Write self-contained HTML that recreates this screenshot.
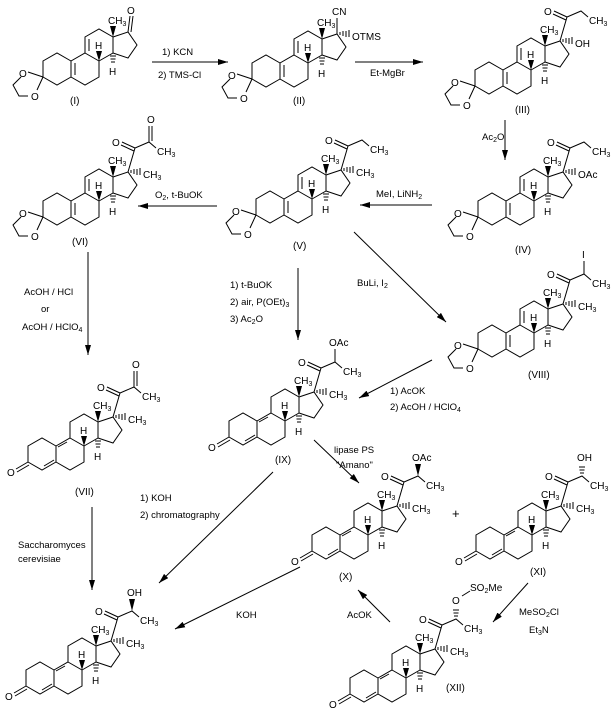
<!DOCTYPE html>
<html><head><meta charset="utf-8"><style>
html,body{margin:0;padding:0;background:#fff;}
svg{display:block;font-family:"Liberation Sans",sans-serif;font-size:10px;}
.l{stroke:#000;stroke-width:1;fill:none;}
.f{fill:#000;stroke:none;}
.s{font-size:7px;}
.r{font-size:9.5px;}
</style></head><body>
<svg width="612" height="710" viewBox="0 0 612 710" xmlns="http://www.w3.org/2000/svg">
<defs>
<marker id="ah" viewBox="0 0 10 6" refX="10" refY="3" markerWidth="10" markerHeight="6" orient="auto" markerUnits="userSpaceOnUse"><path d="M0,0L10,3L0,6z" fill="#000"/></marker>
<g id="core">
<polygon class="l" points="0,-16 14,-8 14,8 0,16 -14,8 -14,-8"/>
<polyline class="l" points="0,-16 0,-32 14,-40 28,-32 28,-16 14,-8"/>
<polyline class="l" points="28,-32 43,-37 52,-24 43,-11 28,-16"/>
<polygon class="f" points="28,-32 25,-43 31,-43"/>
<polygon class="f" points="14,-8 11,-18 17,-18"/>
<path class="l" d="M25,-13h6M25.5,-10h5M26,-7h4"/>
</g>
<g id="kA">
<polyline class="l" points="-14,-8 -28,-16 -42,-8 -42,8 -28,16 -14,8"/>
<path class="l" d="M-10,-6V6M4,-30V-18"/>
<path class="l" d="M-42,8L-57,3M-64,8L-72,16L-66,27L-57,27M-42,8L-48,21"/>
</g>
<g id="dA">
<polyline class="l" points="-14,-8 -28,-16 -42,-8 -42,8 -28,16 -14,8"/>
<path class="l" d="M-26,12L-16,6M-3,-12L-12,-7M-42,8L-54,15M-41,11L-53,18"/>
</g>
<g id="c20">
<path class="l" d="M43,-37L50,-61L64,-67L71,-61M50,-61L37,-67M49,-58L36,-64"/>
<path class="l" d="M46,-39v3M49,-40v5M52,-40v6M55,-41v7"/>
</g>
</defs>

<!-- (I) -->
<g transform="translate(85,69)">
<use href="#core"/><use href="#kA"/>
<path class="l" d="M43,-37L45,-53M46,-37L48,-53"/>
<text x="42" y="-55">O</text>
<text x="23" y="-45">CH<tspan class="s" dy="2">3</tspan></text>
<text x="10" y="-20">H</text><text x="24" y="6">H</text>
<text x="-66" y="8">O</text><text x="-54" y="31">O</text>
</g>
<text x="70" y="104">(I)</text>

<!-- (II) -->
<g transform="translate(294,71)">
<use href="#core"/><use href="#kA"/>
<path class="l" d="M43,-37V-53M46,-39v3M49,-40v5M52,-40v6M55,-41v7"/>
<text x="38" y="-56">CN</text><text x="58" y="-31">OTMS</text>
<text x="23" y="-45">CH<tspan class="s" dy="2">3</tspan></text>
<text x="10" y="-20">H</text><text x="24" y="6">H</text>
<text x="-66" y="8">O</text><text x="-54" y="31">O</text>
</g>
<text x="293" y="104">(II)</text>

<!-- (III) -->
<g transform="translate(517,78)">
<use href="#core"/><use href="#kA"/><use href="#c20"/>
<text x="27" y="-63">O</text>
<text x="72" y="-54">CH<tspan class="s" dy="2">3</tspan></text>
<text x="58" y="-31">OH</text>
<text x="23" y="-45">CH<tspan class="s" dy="2">3</tspan></text>
<text x="10" y="-20">H</text><text x="24" y="6">H</text>
<text x="-66" y="8">O</text><text x="-54" y="31">O</text>
</g>
<text x="515" y="113">(III)</text>

<!-- (IV) -->
<g transform="translate(520,209)">
<use href="#core"/><use href="#kA"/><use href="#c20"/>
<text x="27" y="-63">O</text>
<text x="72" y="-54">CH<tspan class="s" dy="2">3</tspan></text>
<text x="58" y="-31">OAc</text>
<text x="23" y="-45">CH<tspan class="s" dy="2">3</tspan></text>
<text x="10" y="-20">H</text><text x="24" y="6">H</text>
<text x="-66" y="8">O</text><text x="-54" y="31">O</text>
</g>
<text x="515" y="253">(IV)</text>

<!-- (V) -->
<g transform="translate(298,207)">
<use href="#core"/><use href="#kA"/><use href="#c20"/>
<text x="27" y="-63">O</text>
<text x="72" y="-54">CH<tspan class="s" dy="2">3</tspan></text>
<text x="58" y="-31">CH<tspan class="s" dy="2">3</tspan></text>
<text x="23" y="-45">CH<tspan class="s" dy="2">3</tspan></text>
<text x="10" y="-20">H</text><text x="24" y="6">H</text>
<text x="-66" y="8">O</text><text x="-54" y="31">O</text>
</g>
<text x="293" y="249">(V)</text>

<!-- (VI) -->
<g transform="translate(85,209)">
<use href="#core"/><use href="#kA"/><use href="#c20"/>
<path class="l" d="M64,-67V-83M67,-68V-83"/>
<text x="62" y="-86">O</text>
<text x="27" y="-63">O</text>
<text x="72" y="-54">CH<tspan class="s" dy="2">3</tspan></text>
<text x="58" y="-31">CH<tspan class="s" dy="2">3</tspan></text>
<text x="23" y="-45">CH<tspan class="s" dy="2">3</tspan></text>
<text x="10" y="-20">H</text><text x="24" y="6">H</text>
<text x="-66" y="8">O</text><text x="-54" y="31">O</text>
</g>
<text x="72" y="245">(VI)</text>

<!-- (VIII) -->
<g transform="translate(520,341)">
<use href="#core"/><use href="#kA"/><use href="#c20"/>
<path class="l" d="M64,-67V-80"/>
<text x="62" y="-83">I</text>
<text x="27" y="-63">O</text>
<text x="72" y="-54">CH<tspan class="s" dy="2">3</tspan></text>
<text x="58" y="-31">CH<tspan class="s" dy="2">3</tspan></text>
<text x="23" y="-45">CH<tspan class="s" dy="2">3</tspan></text>
<text x="10" y="-20">H</text><text x="24" y="6">H</text>
<text x="-66" y="8">O</text><text x="-54" y="31">O</text>
</g>
<text x="528" y="378">(VIII)</text>

<!-- (VII) -->
<g transform="translate(70,454)">
<use href="#core"/><use href="#dA"/><use href="#c20"/>
<path class="l" d="M64,-67V-83M67,-68V-83"/>
<text x="62" y="-86">O</text>
<text x="27" y="-63">O</text>
<text x="72" y="-54">CH<tspan class="s" dy="2">3</tspan></text>
<text x="58" y="-31">CH<tspan class="s" dy="2">3</tspan></text>
<text x="23" y="-45">CH<tspan class="s" dy="2">3</tspan></text>
<text x="10" y="-20">H</text><text x="24" y="6">H</text>
<text x="-63" y="22">O</text>
</g>
<text x="75" y="495">(VII)</text>

<!-- (IX) -->
<g transform="translate(271,429)">
<use href="#core"/><use href="#dA"/><use href="#c20"/>
<path class="l" d="M64,-67V-80"/>
<text x="58" y="-83">OAc</text>
<text x="27" y="-63">O</text>
<text x="72" y="-54">CH<tspan class="s" dy="2">3</tspan></text>
<text x="58" y="-31">CH<tspan class="s" dy="2">3</tspan></text>
<text x="23" y="-45">CH<tspan class="s" dy="2">3</tspan></text>
<text x="10" y="-20">H</text><text x="24" y="6">H</text>
<text x="-63" y="22">O</text>
</g>
<text x="275" y="463">(IX)</text>

<!-- (X) -->
<g transform="translate(354,543)">
<use href="#core"/><use href="#dA"/><use href="#c20"/>
<polygon class="f" points="64,-67 61,-79 67,-79"/>
<text x="58" y="-82">OAc</text>
<text x="27" y="-63">O</text>
<text x="72" y="-54">CH<tspan class="s" dy="2">3</tspan></text>
<text x="58" y="-31">CH<tspan class="s" dy="2">3</tspan></text>
<text x="23" y="-45">CH<tspan class="s" dy="2">3</tspan></text>
<text x="10" y="-20">H</text><text x="24" y="6">H</text>
<text x="-63" y="22">O</text>
</g>
<text x="339" y="580">(X)</text>

<!-- (XI) -->
<g transform="translate(518,543)">
<use href="#core"/><use href="#dA"/><use href="#c20"/>
<path class="l" d="M62,-70h4M61.5,-73h5M61,-76h6"/>
<text x="59" y="-82">OH</text>
<text x="27" y="-63">O</text>
<text x="72" y="-54">CH<tspan class="s" dy="2">3</tspan></text>
<text x="58" y="-31">CH<tspan class="s" dy="2">3</tspan></text>
<text x="23" y="-45">CH<tspan class="s" dy="2">3</tspan></text>
<text x="10" y="-20">H</text><text x="24" y="6">H</text>
<text x="-63" y="22">O</text>
</g>
<text x="530" y="575">(XI)</text>

<!-- (XII) -->
<g transform="translate(392,686)">
<use href="#core"/><use href="#dA"/><use href="#c20"/>
<path class="l" d="M62,-70h4M61.5,-73h5M61,-76h6M70,-90L78,-95"/>
<text x="60" y="-82">O</text>
<text x="78" y="-95">SO<tspan class="s" dy="2">2</tspan><tspan dy="-2">Me</tspan></text>
<text x="27" y="-63">O</text>
<text x="72" y="-54">CH<tspan class="s" dy="2">3</tspan></text>
<text x="58" y="-31">CH<tspan class="s" dy="2">3</tspan></text>
<text x="23" y="-45">CH<tspan class="s" dy="2">3</tspan></text>
<text x="10" y="-20">H</text><text x="24" y="6">H</text>
<text x="-63" y="22">O</text>
</g>
<text x="446" y="691">(XII)</text>

<!-- final -->
<g transform="translate(68,678)">
<use href="#core"/><use href="#dA"/><use href="#c20"/>
<polygon class="f" points="64,-67 61,-79 67,-79"/>
<text x="59" y="-82">OH</text>
<text x="27" y="-63">O</text>
<text x="72" y="-54">CH<tspan class="s" dy="2">3</tspan></text>
<text x="58" y="-31">CH<tspan class="s" dy="2">3</tspan></text>
<text x="23" y="-45">CH<tspan class="s" dy="2">3</tspan></text>
<text x="10" y="-20">H</text><text x="24" y="6">H</text>
<text x="-63" y="22">O</text>
</g>

<!-- arrows -->
<g class="l" marker-end="url(#ah)">
<line x1="152" y1="62" x2="228" y2="62"/>
<line x1="355" y1="62" x2="423" y2="62"/>
<line x1="505" y1="120" x2="505" y2="160"/>
<line x1="432" y1="205" x2="360" y2="205"/>
<line x1="217" y1="206" x2="138" y2="206"/>
<line x1="88" y1="252" x2="88" y2="355"/>
<line x1="298" y1="268" x2="298" y2="340"/>
<line x1="354" y1="232" x2="446" y2="322"/>
<line x1="432" y1="360" x2="359" y2="398"/>
<line x1="314" y1="440" x2="359" y2="483"/>
<line x1="273" y1="472" x2="159" y2="583"/>
<line x1="92" y1="507" x2="92" y2="590"/>
<line x1="300" y1="567" x2="175" y2="629"/>
<line x1="390" y1="622" x2="358" y2="590"/>
<line x1="528" y1="583" x2="493" y2="622"/>
</g>

<!-- reagents -->
<g class="r">
<text x="162" y="55">1) KCN</text>
<text x="158" y="78">2) TMS-Cl</text>
<text x="370" y="76">Et-MgBr</text>
<text x="482" y="140">Ac<tspan class="s" dy="2">2</tspan><tspan dy="-2">O</tspan></text>
<text x="376" y="197">MeI, LiNH<tspan class="s" dy="2">2</tspan></text>
<text x="155" y="198">O<tspan class="s" dy="2">2</tspan><tspan dy="-2">, t-BuOK</tspan></text>
<text x="24" y="295">AcOH / HCl</text>
<text x="41" y="312">or</text>
<text x="22" y="330">AcOH / HClO<tspan class="s" dy="2">4</tspan></text>
<text x="230" y="288">1) t-BuOK</text>
<text x="230" y="305">2) air, P(OEt)<tspan class="s" dy="2">3</tspan></text>
<text x="230" y="322">3) Ac<tspan class="s" dy="2">2</tspan><tspan dy="-2">O</tspan></text>
<text x="357" y="286">BuLi,  I<tspan class="s" dy="2">2</tspan></text>
<text x="390" y="394">1) AcOK</text>
<text x="390" y="410">2) AcOH / HClO<tspan class="s" dy="2">4</tspan></text>
<text x="334" y="453">lipase PS</text>
<text x="336" y="468">"Amano"</text>
<text x="140" y="501">1) KOH</text>
<text x="140" y="518">2) chromatography</text>
<text x="18" y="548">Saccharomyces</text>
<text x="18" y="562">cerevisiae</text>
<text x="236" y="618">KOH</text>
<text x="347" y="618">AcOK</text>
<text x="519" y="615">MeSO<tspan class="s" dy="2">2</tspan><tspan dy="-2">Cl</tspan></text>
<text x="529" y="633">Et<tspan class="s" dy="2">3</tspan><tspan dy="-2">N</tspan></text>
</g>
<text x="452" y="518" style="font-size:13px">+</text>
</svg>
</body></html>
